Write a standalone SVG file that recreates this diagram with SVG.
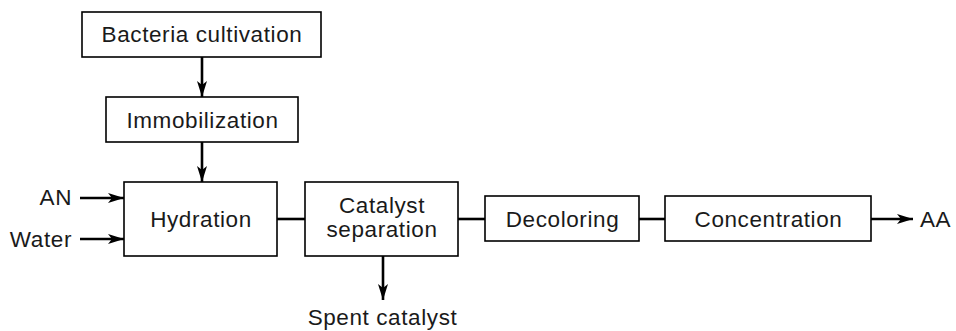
<svg xmlns="http://www.w3.org/2000/svg" width="956" height="331" viewBox="0 0 956 331">
<defs>
<marker id="ah" viewBox="0 0 16 10" refX="16" refY="5" markerWidth="16" markerHeight="10" markerUnits="userSpaceOnUse" orient="auto">
<path d="M0,0 L16,5 L0,10 L4,5 Z" fill="#000"/>
</marker>
</defs>
<style>
.box{fill:#fff;stroke:#000;stroke-width:1.6}
.t{font-family:"Liberation Sans",Arial,sans-serif;font-size:22.5px;letter-spacing:0.6px;fill:#1a1a1a}
.c{stroke:#000;stroke-width:2.6;fill:none}
</style>
<g id="connectors">
<line class="c" x1="202" y1="57" x2="202" y2="97" marker-end="url(#ah)"/>
<line class="c" x1="202" y1="142" x2="202" y2="182" marker-end="url(#ah)"/>
<line class="c" x1="80" y1="198" x2="124" y2="198" marker-end="url(#ah)"/>
<line class="c" x1="80" y1="239" x2="124" y2="239" marker-end="url(#ah)"/>
<line class="c" x1="277" y1="219" x2="305" y2="219"/>
<line class="c" x1="458" y1="219" x2="485" y2="219"/>
<line class="c" x1="639" y1="219" x2="665" y2="219"/>
<line class="c" x1="871" y1="219" x2="913" y2="219" marker-end="url(#ah)"/>
<line class="c" x1="383" y1="256" x2="383" y2="300" marker-end="url(#ah)"/>
</g>
<g id="bacteria">
<rect class="box" x="82" y="12" width="239" height="45"/>
<text class="t" x="202" y="42" text-anchor="middle">Bacteria cultivation</text>
</g>
<g id="immobilization">
<rect class="box" x="106" y="97" width="192" height="45"/>
<text class="t" x="202.5" y="128" text-anchor="middle">Immobilization</text>
</g>
<g id="hydration">
<rect class="box" x="124" y="182" width="153" height="74"/>
<text class="t" x="201" y="227" text-anchor="middle">Hydration</text>
</g>
<g id="catalyst">
<rect class="box" x="305" y="182" width="153" height="74"/>
<text class="t" x="382" y="213" text-anchor="middle">Catalyst</text>
<text class="t" x="382" y="237" text-anchor="middle">separation</text>
</g>
<g id="decoloring">
<rect class="box" x="485" y="196" width="154" height="45"/>
<text class="t" x="562.5" y="227" text-anchor="middle">Decoloring</text>
</g>
<g id="concentration">
<rect class="box" x="665" y="196" width="206" height="45"/>
<text class="t" x="768.5" y="227" text-anchor="middle">Concentration</text>
</g>
<g id="labels">
<text class="t" x="72" y="205" text-anchor="end">AN</text>
<text class="t" x="72" y="247" text-anchor="end">Water</text>
<text class="t" x="920" y="227">AA</text>
<text class="t" x="382.5" y="325" text-anchor="middle">Spent catalyst</text>
</g>
</svg>
